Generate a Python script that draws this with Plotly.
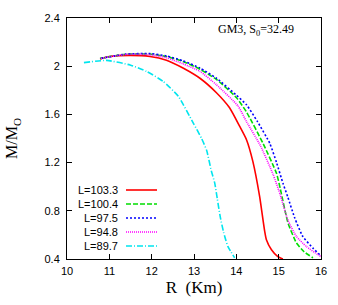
import plotly.graph_objects as go

# ---------------- data ----------------
names = ["L=103.3", "L=100.4", "L=97.5", "L=94.8", "L=89.7"]
colors = ["#ff0000", "#00dd00", "#0000ff", "#ff00ff", "#00e5ee"]
dashes = ["solid", "5px,2px", "2px,2px", "1px,1px", "6px,2px,1px,2px"]

r_103 = [10.78, 11.0, 11.49, 11.96, 12.35, 12.74, 13.14, 13.53, 13.84, 14.08, 14.24, 14.39, 14.55, 14.6, 14.67, 14.71, 14.83, 14.98, 15.1]
m_103 = [2.06, 2.08, 2.09, 2.081, 2.05, 1.985, 1.90, 1.78, 1.655, 1.50, 1.39, 1.21, 0.92, 0.80, 0.63, 0.56, 0.477, 0.42, 0.40]

r_100 = [10.78, 11.4, 11.96, 12.35, 12.74, 13.14, 13.53, 14.0, 14.24, 14.63, 14.95, 15.04, 15.22, 15.42, 15.6, 15.81]
m_100 = [2.065, 2.1, 2.10, 2.08, 2.04, 1.975, 1.89, 1.74, 1.62, 1.36, 1.11, 0.98, 0.70, 0.533, 0.46, 0.41]

r_97 = [10.8, 11.4, 11.96, 12.35, 12.74, 13.14, 13.53, 14.0, 14.24, 14.5, 14.79, 14.95, 15.1, 15.22, 15.38, 15.57, 15.81, 15.97, 16.0]
m_97 = [2.065, 2.1, 2.105, 2.085, 2.045, 1.985, 1.90, 1.76, 1.68, 1.54, 1.36, 1.20, 1.03, 0.91, 0.74, 0.587, 0.49, 0.435, 0.425]

r_94 = [10.8, 11.4, 11.96, 12.35, 12.74, 13.14, 13.53, 14.04, 14.24, 14.57, 14.87, 15.04, 15.22, 15.42, 15.65, 15.93, 16.0]
m_94 = [2.065, 2.098, 2.095, 2.07, 2.02, 1.957, 1.846, 1.67, 1.54, 1.34, 1.10, 0.93, 0.72, 0.587, 0.505, 0.435, 0.42]

r_89 = [10.4, 10.94, 11.49, 11.88, 12.27, 12.63, 12.98, 13.18, 13.3, 13.41, 13.49, 13.55, 13.62, 13.7, 13.8, 13.96]
m_89 = [2.03, 2.048, 2.01, 1.957, 1.874, 1.75, 1.53, 1.40, 1.30, 1.13, 1.03, 0.9, 0.75, 0.62, 0.505, 0.41]

radii = [r_103, r_100, r_97, r_94, r_89]
masses = [m_103, m_100, m_97, m_94, m_89]

x_ticks = [10, 11, 12, 13, 14, 15, 16]
y_ticks = [0.4, 0.8, 1.2, 1.6, 2.0, 2.4]
y_ticktext = ["0.4", "0.8", "1.2", "1.6", "2", "2.4"]

# ---------------- figure ----------------
fig = go.Figure()
for r, m, n, c, d in zip(radii, masses, names, colors, dashes):
    fig.add_trace(go.Scatter(x=r, y=m, mode="lines", name=n,
                             line=dict(color=c, width=1.6, dash=d, shape="spline", smoothing=0.5),
                             showlegend=False))

W, H = 338, 305
L, R, T, B = 67, 17, 18, 46
pw, ph = W - L - R, H - T - B

def px_x(p):
    return (p - L) / pw

def px_y(p):
    return 1 - (p - T) / ph

# custom legend: label on the left, sample line to the right
for i, (n, c, d) in enumerate(zip(names, colors, dashes)):
    yy = px_y(190 + 14 * i)
    fig.add_annotation(xref="paper", yref="paper", x=px_x(120), y=yy, text=n,
                       showarrow=False, xanchor="right", yanchor="middle",
                       font=dict(family="Liberation Sans Narrow, Liberation Sans, Arial", size=11, color="#000"))
    fig.add_shape(type="line", xref="paper", yref="paper",
                  x0=px_x(126), x1=px_x(157), y0=yy, y1=yy,
                  line=dict(color=c, width=1.6, dash=d))

fig.add_annotation(xref="paper", yref="paper", x=px_x(256), y=px_y(30),
                   text="GM3, S<sub>0</sub>=32.49", showarrow=False,
                   xanchor="center", yanchor="middle",
                   font=dict(family="Liberation Serif, Times New Roman, serif", size=12, color="#000"))

axis_common = dict(showgrid=False, zeroline=False, showline=True, linecolor="#000", linewidth=1,
                   mirror="allticks", ticks="inside", ticklen=5, tickcolor="#000", tickwidth=1,
                   automargin=False,
                   tickfont=dict(family="Liberation Sans Narrow, Liberation Sans, Arial", size=11, color="#000"))

fig.update_layout(
    width=W, height=H,
    margin=dict(l=L, r=R, t=T, b=B),
    paper_bgcolor="white", plot_bgcolor="white",
    xaxis=dict(range=[10, 16], tickvals=x_ticks, ticklabelstandoff=2,
               title=dict(text="R  (Km)", standoff=4,
                          font=dict(family="Liberation Serif, Times New Roman, serif", size=17, color="#000")),
               **axis_common),
    yaxis=dict(range=[0.4, 2.4], tickvals=y_ticks, ticktext=y_ticktext, ticklabelstandoff=4,
               title=dict(text="M/M<sub>O</sub>", standoff=22,
                          font=dict(family="Liberation Serif, Times New Roman, serif", size=16, color="#000")),
               **axis_common),
)

fig.write_html("out.html", config={"displayModeBar": False},
               post_script="document.body.style.margin='0px';")
